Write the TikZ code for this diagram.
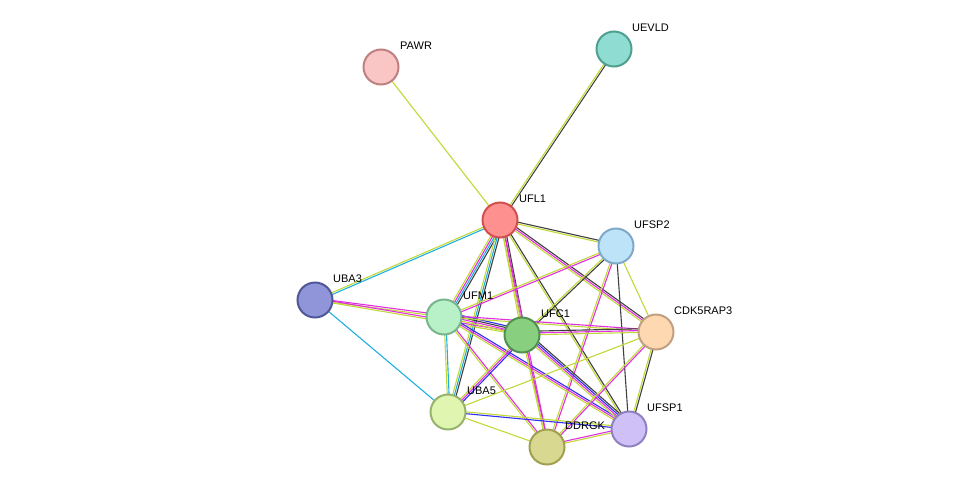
\documentclass[tikz,border=0pt]{standalone}
\usepackage{fontspec}
\setmainfont{Liberation Sans}
\usetikzlibrary{calc}
\definecolor{tm}{HTML}{C2D838}
\definecolor{co}{HTML}{404040}
\definecolor{ex}{HTML}{E030E0}
\definecolor{db}{HTML}{20B0E0}
\definecolor{gf}{HTML}{3030F0}
\tikzset{
  prot/.style={circle, minimum size=35pt, inner sep=0pt, line width=2pt},
  lbl/.style={anchor=south west, font=\fontsize{11}{12}\selectfont, inner sep=0pt},
  link/.style={line width=1.1pt}
}
\newcommand{\edge}[3]{%
  \foreach \c [count=\i] in {#3} {%
    \pgfmathsetmacro{\off}{1.8*(\i-1)}%
    \draw[link, \c] ($(#1)!\off pt!90:(#2)$) -- ($(#2)!\off pt!-90:(#1)$);
  }%
}
\begin{document}
\begin{tikzpicture}[x=1pt,y=-1pt]
  \useasboundingbox (0,0) rectangle (975,493);
  % node centres
  \coordinate (PAWR) at (381,67);
  \coordinate (UEVLD) at (614,49);
  \coordinate (UFL1) at (500,220);
  \coordinate (UFSP2) at (616,246);
  \coordinate (UBA3) at (315,300);
  \coordinate (UFM1) at (444,317);
  \coordinate (UFC1) at (522,335);
  \coordinate (CDK5RAP3) at (656,332);
  \coordinate (UBA5) at (448,412);
  \coordinate (DDRGK) at (547,447);
  \coordinate (UFSP1) at (629,429);

  % links
  \edge{PAWR}{UFL1}{tm}
  \edge{UEVLD}{UFL1}{tm,co}
  \edge{UFL1}{UFSP2}{tm,co}
  \edge{UFL1}{UBA3}{tm,db}
  \edge{UFL1}{UFM1}{tm,ex,db,co}
  \edge{UFL1}{UFC1}{tm,ex,co}
  \edge{UFL1}{CDK5RAP3}{tm,ex,co}
  \edge{UFL1}{UBA5}{tm,db,co}
  \edge{UFL1}{DDRGK}{tm,ex}
  \edge{UFL1}{UFSP1}{tm,co}
  \edge{UFSP2}{UFM1}{tm,ex}
  \edge{UFSP2}{UFC1}{tm,co}
  \edge{UFSP2}{CDK5RAP3}{tm}
  \edge{UFSP2}{UFSP1}{co}
  \edge{UFSP2}{DDRGK}{tm,ex}
  \edge{UBA3}{UFM1}{tm,ex}
  \edge{UBA3}{UFC1}{tm,ex}
  \edge{UBA3}{UBA5}{db}
  \edge{UFM1}{UFC1}{tm,ex,co,gf}
  \edge{UFM1}{CDK5RAP3}{tm,ex}
  \edge{UFM1}{UBA5}{tm,db}
  \edge{UFM1}{DDRGK}{tm,ex}
  \edge{UFM1}{UFSP1}{tm,ex,gf}
  \edge{UFC1}{CDK5RAP3}{tm,ex,co}
  \edge{UFC1}{UBA5}{tm,ex,gf}
  \edge{UFC1}{DDRGK}{tm,ex}
  \edge{UFC1}{UFSP1}{tm,ex,gf,co}
  \edge{CDK5RAP3}{UFSP1}{tm,co}
  \edge{CDK5RAP3}{DDRGK}{tm,ex}
  \edge{CDK5RAP3}{UBA5}{tm}
  \edge{UBA5}{DDRGK}{tm}
  \edge{UBA5}{UFSP1}{gf,tm}
  \edge{DDRGK}{UFSP1}{tm,ex}

  % proteins
  \node[prot, fill={rgb,255:red,249;green,197;blue,197}, draw={rgb,255:red,192;green,128;blue,128}] (PAWRn) at (PAWR) {};
  \node[prot, fill={rgb,255:red,143;green,220;blue,210}, draw={rgb,255:red,80;green,160;blue,144}] (UEVLDn) at (UEVLD) {};
  \node[prot, fill={rgb,255:red,255;green,144;blue,144}, draw={rgb,255:red,208;green,80;blue,80}] (UFL1n) at (UFL1) {};
  \node[prot, fill={rgb,255:red,189;green,227;blue,249}, draw={rgb,255:red,128;green,168;blue,200}] (UFSP2n) at (UFSP2) {};
  \node[prot, fill={rgb,255:red,143;green,149;blue,216}, draw={rgb,255:red,80;green,88;blue,152}] (UBA3n) at (UBA3) {};
  \node[prot, fill={rgb,255:red,184;green,240;blue,200}, draw={rgb,255:red,120;green,180;blue,140}] (UFM1n) at (UFM1) {};
  \node[prot, fill={rgb,255:red,136;green,208;blue,128}, draw={rgb,255:red,80;green,144;blue,80}] (UFC1n) at (UFC1) {};
  \node[prot, fill={rgb,255:red,253;green,216;blue,176}, draw={rgb,255:red,192;green,160;blue,128}] (CDK5RAP3n) at (CDK5RAP3) {};
  \node[prot, fill={rgb,255:red,223;green,245;blue,176}, draw={rgb,255:red,150;green,180;blue,110}] (UBA5n) at (UBA5) {};
  \node[prot, fill={rgb,255:red,216;green,216;blue,144}, draw={rgb,255:red,160;green,160;blue,80}] (DDRGKn) at (DDRGK) {};
  \node[prot, fill={rgb,255:red,208;green,192;blue,248}, draw={rgb,255:red,144;green,128;blue,192}] (UFSP1n) at (UFSP1) {};

  % labels
  \node[lbl] (PAWRl) at ($(PAWR)+(19,-17)$) {PAWR};
  \node[lbl] (UEVLDl) at ($(UEVLD)+(18,-17)$) {UEVLD};
  \node[lbl] (UFL1l) at ($(UFL1)+(19,-17)$) {UFL1};
  \node[lbl] (UFSP2l) at ($(UFSP2)+(18,-17)$) {UFSP2};
  \node[lbl] (UBA3l) at ($(UBA3)+(18,-17)$) {UBA3};
  \node[lbl] (UFM1l) at ($(UFM1)+(19,-17)$) {UFM1};
  \node[lbl] (UFC1l) at ($(UFC1)+(19,-17)$) {UFC1};
  \node[lbl] (CDK5RAP3l) at ($(CDK5RAP3)+(18,-17)$) {CDK5RAP3};
  \node[lbl] (UBA5l) at ($(UBA5)+(19,-17)$) {UBA5};
  \node[lbl] (DDRGKl) at ($(DDRGK)+(18,-17)$) {DDRGK};
  \node[lbl] (UFSP1l) at ($(UFSP1)+(18,-17)$) {UFSP1};
\end{tikzpicture}
\end{document}
